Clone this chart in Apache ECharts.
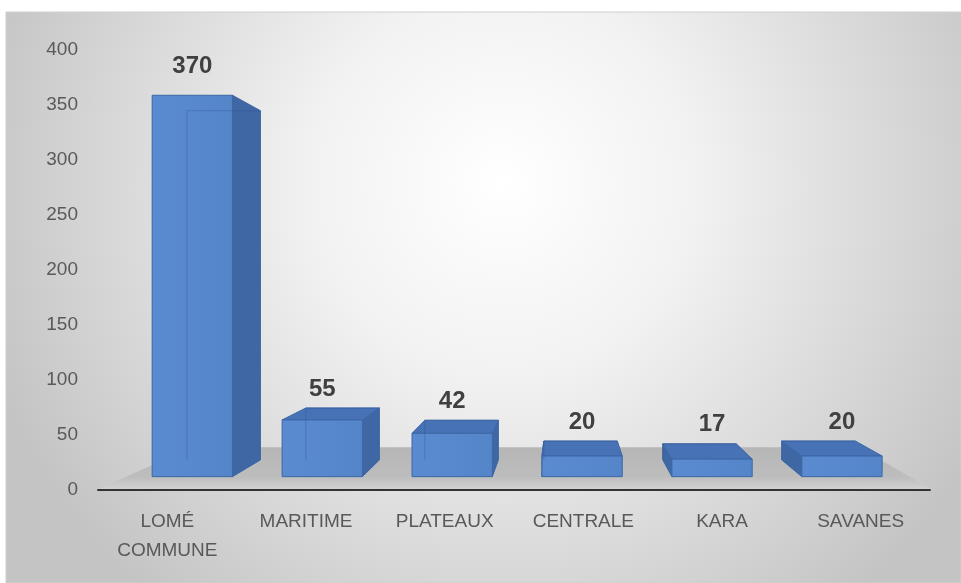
<!DOCTYPE html>
<html>
<head>
<meta charset="UTF-8">
<title>Régions</title>
<script src="https://cdn.jsdelivr.net/npm/echarts@6/dist/echarts.min.js"></script>
<style>
  html, body { margin: 0; padding: 0; background: #fff; }
  #chart { width: 961px; height: 583px; }
</style>
</head>
<body>
<div id="chart"></div>
<script type="text/javascript">
var categories = ['LOMÉ\nCOMMUNE', 'MARITIME', 'PLATEAUX', 'CENTRALE', 'KARA', 'SAVANES'];
var values = [370, 55, 42, 20, 17, 20];
var yTicks = [0, 50, 100, 150, 200, 250, 300, 350, 400];

// perspective settings (fractions of the plot area / depth scales)
var VX = 0.56, VY = 0.518;      // vanishing point
var S_FRONT = 0.937, S_BACK = 0.858, S_FLOOR = 0.798;
var BAR_FRAC = 0.618;

var myChart = echarts.init(document.getElementById('chart'));

function vp(cs) {
	return [cs.x + cs.width * VX, cs.y + cs.height * VY];
}
function proj(V, x, y, s) {
	return [V[0] + (x - V[0]) * s, V[1] + (y - V[1]) * s];
}

function renderFloor(params, api) {
	var cs = params.coordSys, V = vp(cs);
	var yb = cs.y + cs.height;
	var xl = cs.x - 1, xr = cs.x + cs.width + 3;
	return {
		type: 'polygon',
		shape: { points: [[xl, yb], [xr, yb], proj(V, xr, yb, S_FLOOR), proj(V, xl, yb, S_FLOOR)] },
		style: {
			fill: new echarts.graphic.LinearGradient(0, 0, 0, 1, [
				{ offset: 0, color: '#b6b6b6' },
				{ offset: 0.7, color: '#bdbdbd' },
				{ offset: 1, color: '#d3d3d3' }
			])
		}
	};
}

function renderBar(params, api) {
	var cs = params.coordSys, V = vp(cs);
	var i = api.value(0), v = api.value(1);
	var c0 = api.coord([i, 0]), c1 = api.coord([i, v]);
	var hw = api.size([1, 0])[0] * BAR_FRAC / 2;
	var xl = c0[0] - hw, xr = c0[0] + hw, yb = c0[1], yt = c1[1];

	var FTL = proj(V, xl, yt, S_FRONT), FTR = proj(V, xr, yt, S_FRONT),
		FBR = proj(V, xr, yb, S_FRONT), FBL = proj(V, xl, yb, S_FRONT);
	var BTL = proj(V, xl, yt, S_BACK), BTR = proj(V, xr, yt, S_BACK),
		BBR = proj(V, xr, yb, S_BACK), BBL = proj(V, xl, yb, S_BACK);

	var edge = '#3b67a6';
	var children = [];

	var fcx = (FTL[0] + FTR[0]) / 2;
	var side = fcx < V[0] ? [FTR, BTR, BBR, FBR] : [FTL, BTL, BBL, FBL];
	children.push({ type: 'polygon', shape: { points: side },
		style: { fill: '#3e67a4', stroke: edge, lineWidth: 1 } });
	if (FTL[1] > V[1]) {
		children.push({ type: 'polygon', shape: { points: [FTL, FTR, BTR, BTL] },
			style: { fill: '#4773b6', stroke: edge, lineWidth: 1 } });
	}
	children.push({ type: 'polygon', shape: { points: [FTL, FTR, FBR, FBL] },
		style: {
			fill: new echarts.graphic.LinearGradient(0, 0, 1, 0, [
				{ offset: 0, color: '#5a8ad0' },
				{ offset: 1, color: '#5585c9' }
			]),
			stroke: edge, lineWidth: 1
		} });
	// faint back edges seen through the front face
	children.push({ type: 'polyline', shape: { points: [BBL, BTL, BTR] },
		style: { fill: 'none', stroke: 'rgba(45,80,145,0.35)', lineWidth: 1 } });

	var topY = FTL[1] < BTL[1] ? FTL[1] - 17 : BTL[1] - 7;
	children.push({
		type: 'text',
		style: {
			text: String(v), x: fcx, y: topY,
			align: 'center', verticalAlign: 'bottom',
			font: 'bold 24px "Liberation Sans", Arial, sans-serif',
			fill: '#404040'
		}
	});
	return { type: 'group', children: children };
}

var option = {
	animation: false,
	graphic: [{
		type: 'rect',
		shape: { x: 6, y: 12, width: 955, height: 571 },
		style: {
			fill: new echarts.graphic.RadialGradient(0.52, 0.3, 0.95, [
				{ offset: 0, color: '#ffffff' },
				{ offset: 0.35, color: '#f2f2f2' },
				{ offset: 1, color: '#c4c4c4' }
			]),
			stroke: '#cfcfcf', lineWidth: 1
		},
		z: -10
	}],
	grid: { left: 98, right: 31, top: 50, bottom: 93, containLabel: false },
	xAxis: {
		type: 'category',
		data: categories,
		z: 10,
		axisLine: { show: true, lineStyle: { color: '#333333', width: 2 } },
		axisTick: { show: false },
		axisLabel: {
			margin: 17, color: '#595959', fontSize: 19, lineHeight: 29,
			fontFamily: '"Liberation Sans", Arial, sans-serif', interval: 0
		}
	},
	yAxis: {
		type: 'value',
		min: yTicks[0], max: yTicks[yTicks.length - 1], interval: yTicks[1] - yTicks[0],
		axisLine: { show: false },
		axisTick: { show: false },
		splitLine: { show: false },
		axisLabel: {
			margin: 20, color: '#595959', fontSize: 19,
			fontFamily: '"Liberation Sans", Arial, sans-serif'
		}
	},
	series: [
		{ type: 'custom', renderItem: renderFloor, data: [[0, 0]], z: 1, silent: true },
		{
			type: 'custom',
			renderItem: renderBar,
			encode: { x: 0, y: 1 },
			data: values.map(function (v, i) { return [i, v]; }),
			z: 3
		}
	]
};

myChart.setOption(option);
</script>
</body>
</html>
